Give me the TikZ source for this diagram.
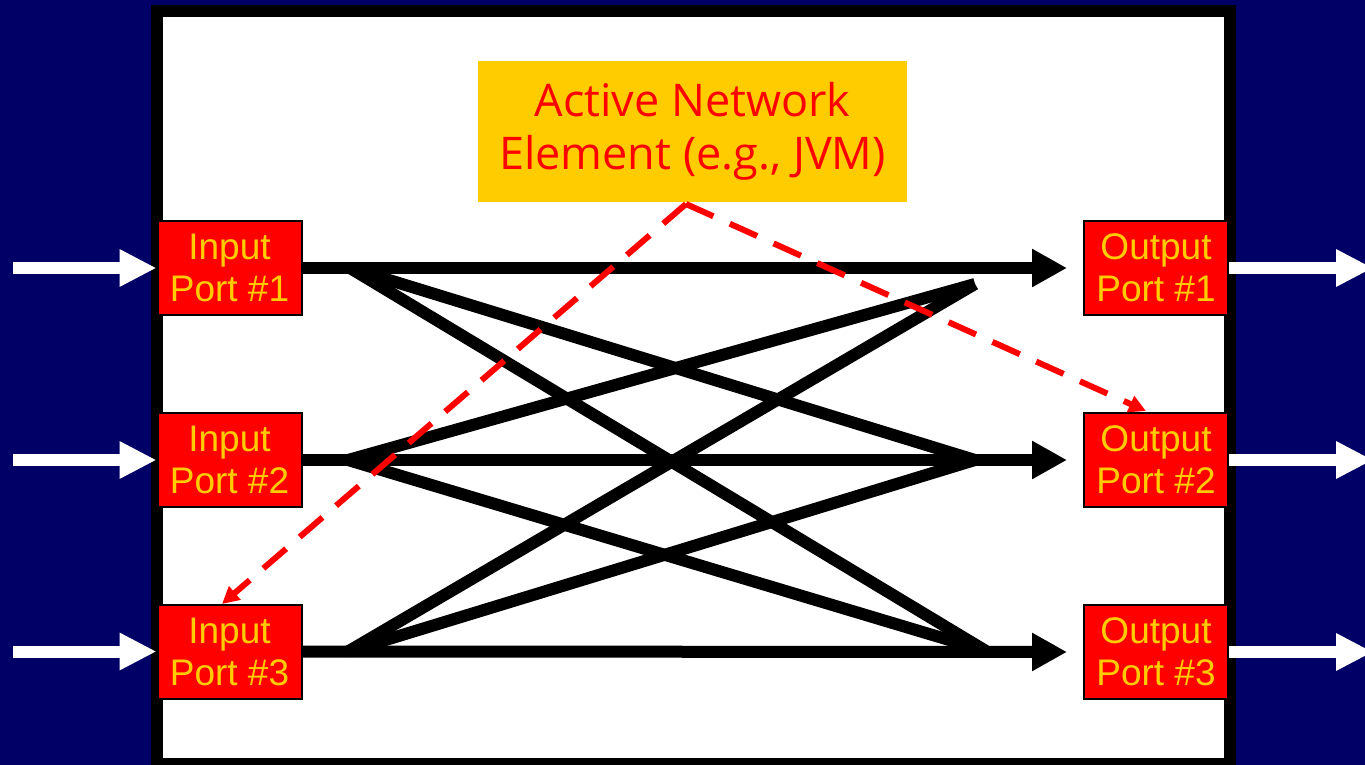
\documentclass[tikz,border=0pt]{standalone}
\usepackage{fontspec}
\setmainfont{Liberation Sans}
\newfontfamily\comicfont{Open Sans}
\usetikzlibrary{arrows.meta,calc}
\definecolor{navy}{RGB}{0,0,102}
\definecolor{portred}{RGB}{255,0,0}
\definecolor{gold}{RGB}{255,204,0}
\begin{document}
\begin{tikzpicture}[x=1pt,y=-1pt,
  port/.style={draw=black, line width=2pt, fill=portred, text=gold,
    minimum width=144pt, minimum height=94pt, inner sep=0pt, align=center,
    font=\fontsize{37}{42}\selectfont},
  anebox/.style={fill=gold, text=portred, minimum width=429pt, minimum height=141pt,
    inner sep=0pt, align=center, font=\comicfont\fontsize{45}{53}\selectfont},
  flow/.style={line width=12pt, -{Triangle[length=35pt,width=36pt]}, shorten >=16pt},
  cross/.style={line width=12pt},
  inarrow/.style={white, line width=12pt, -{Triangle[length=37pt,width=35pt]}},
  ctrl/.style={portred, line width=6pt, dash pattern=on 30pt off 18pt,
    -{Triangle[length=17pt,width=17pt]}}
]
\useasboundingbox (0,0) rectangle (1365,765);
\fill[navy] (0,0) rectangle (1365,765);
\draw[line width=12pt, fill=white] (157,11) rectangle (1229.5,764);

\node[anebox] (ane) at (692.5,131.5) {Active Network\\Element (e.g., JVM)};

\node[port] (in1) at (229.5,268) {Input\\Port \#1};
\node[port] (in2) at (229.5,460) {Input\\Port \#2};
\node[port] (in3) at (229.5,651.5) {Input\\Port \#3};
\node[port] (out1) at (1156,268) {Output\\Port \#1};
\node[port] (out2) at (1156,460) {Output\\Port \#2};
\node[port] (out3) at (1156,652) {Output\\Port \#3};

% external arrows
\coordinate (l1) at (13,268);
\coordinate (l2) at (13,460);
\coordinate (l3) at (13,651.5);
\coordinate (r1) at (1373,268);
\coordinate (r2) at (1373,460);
\coordinate (r3) at (1373,652);
\draw[inarrow] (l1) -- (in1.west);
\draw[inarrow] (l2) -- (in2.west);
\draw[inarrow] (l3) -- (in3.west);
\draw[inarrow] (out1.east) -- (r1);
\draw[inarrow] (out2.east) -- (r2);
\draw[inarrow] (out3.east) -- (r3);

% cross connections
\coordinate (s1) at (350,268);
\coordinate (s2) at (348,460);
\coordinate (s3) at (348,651.5);
\coordinate (e1) at (975,284);
\coordinate (e2) at (975,460);
\coordinate (e3) at (986,651);
\draw[cross] (s1) -- (e2);
\draw[cross] (s1) -- (e3);
\draw[cross] (s2) -- (e1);
\draw[cross] (s2) -- (e3);
\draw[cross] (s3) -- (e1);
\draw[cross] (s3) -- (e2);

% straight flows
\draw[flow] (in1.east) -- (out1.west);
\draw[flow] (in2.east) -- (out2.west);
\draw[flow] (in3.east) -- (out3.west);

% control (dashed)
\coordinate (apex) at (686,204);
\coordinate (c3) at (222,604);
\coordinate (c2) at (1146,411);
\draw[ctrl] (apex) -- (c3);
\draw[ctrl] (apex) -- (c2);
\end{tikzpicture}
\end{document}
